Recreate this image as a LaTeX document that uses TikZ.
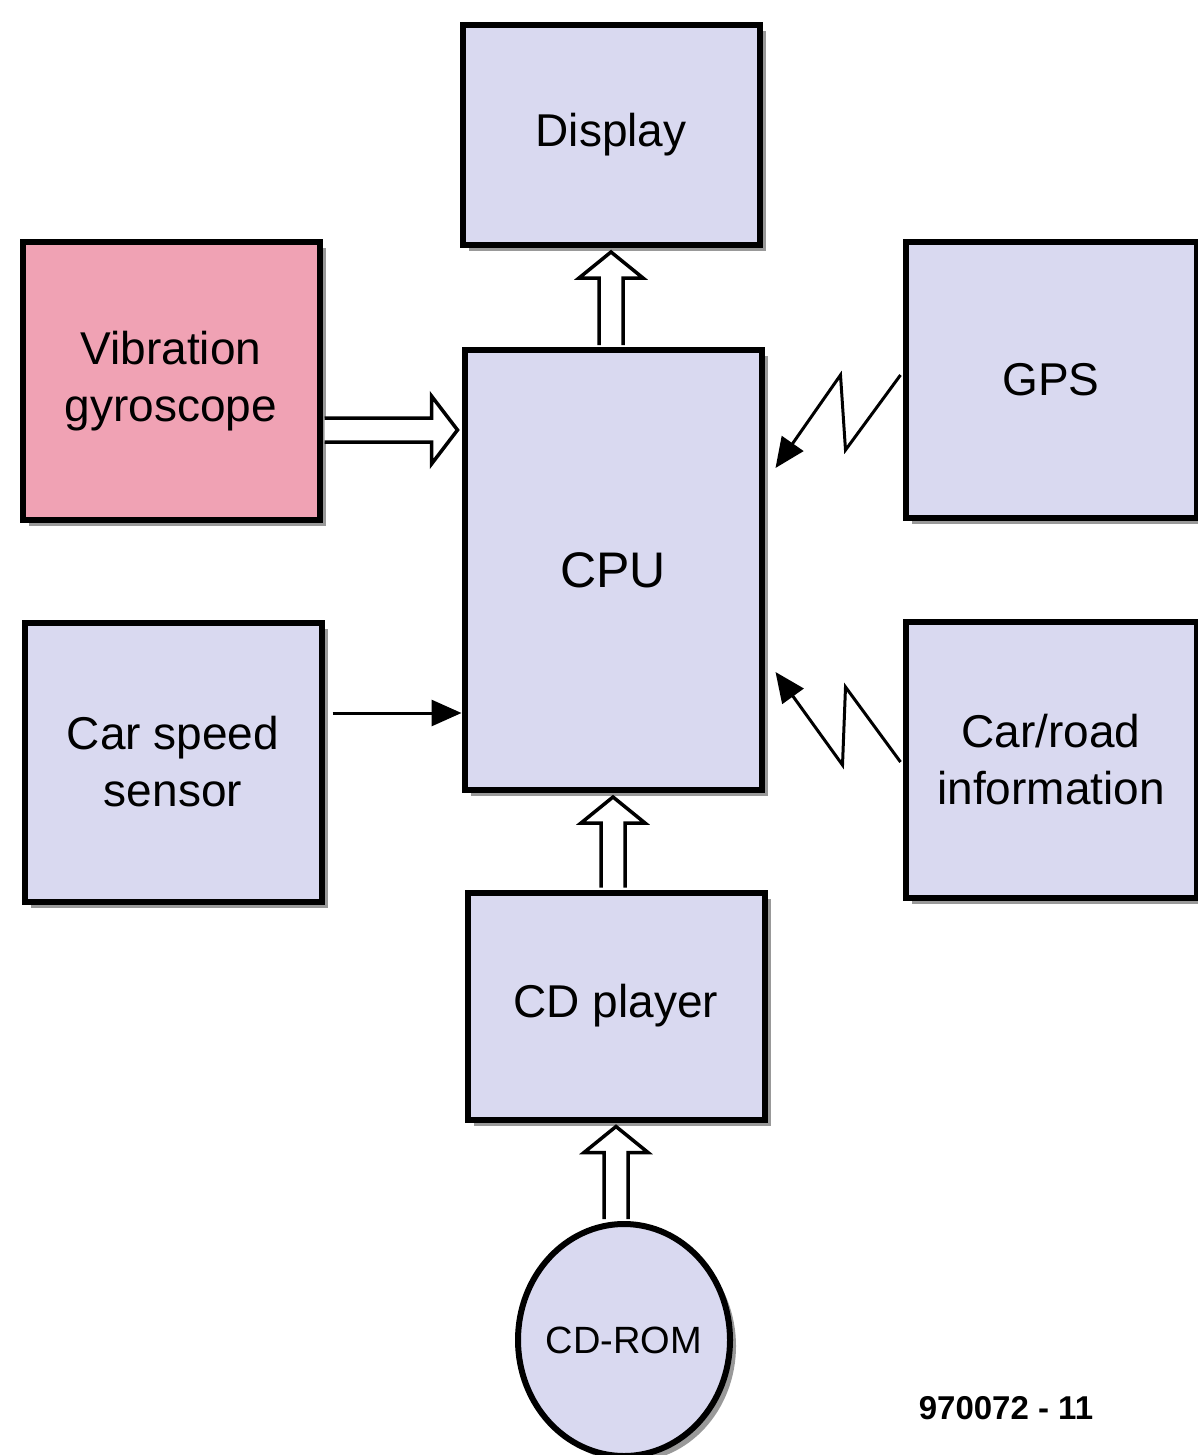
\documentclass[tikz,border=0pt]{standalone}
\usepackage{fontspec}
\setmainfont{Liberation Sans}
\usetikzlibrary{calc,shadows,arrows.meta,shapes.geometric}
\definecolor{boxblue}{RGB}{217,217,240}
\definecolor{gyropink}{RGB}{240,162,180}
\begin{document}
\begin{tikzpicture}
  [x=1pt,y=-1pt,
   block/.style={draw=black,line width=6pt,fill=boxblue,minimum width=297pt,
     align=center,inner sep=0pt,font=\fontsize{46}{57}\selectfont,
     drop shadow={shadow xshift=6pt,shadow yshift=-6pt,fill=black!40,opacity=1}},
   fat/.style={draw=black,line width=3.5pt,fill=white,line join=miter},
   zig/.style={draw=black,line width=3pt,-{Triangle[length=30pt,width=26pt]}}]
  \useasboundingbox (0,0) rectangle (1198,1455);
  \clip (0,0) rectangle (1198,1455);

  \node[block,minimum height=220pt] (disp) at (611,135) {Display};
  \node[block,minimum height=278pt,fill=gyropink] (gyro) at (171,381) {Vibration\\gyroscope};
  \node[block,minimum width=291pt,minimum height=276pt] (gps) at (1051,380) {GPS};
  \node[block,minimum height=440pt,font=\fontsize{50}{60}\selectfont] (cpu) at (613,570) {CPU};
  \node[block,minimum height=279pt] (speed) at (173,762) {Car speed\\sensor};
  \node[block,minimum width=291pt,minimum height=276pt] (road) at (1051,760) {Car/road\\information};
  \node[block,minimum height=227pt] (cdp) at (616,1006) {CD player};
  \node[block,ellipse,inner sep=-30pt,minimum width=212pt,minimum height=232pt,
    font=\fontsize{38}{46}\selectfont] (cdrom) at (624,1340) {CD-ROM};
  \node[font=\bfseries\fontsize{33}{40}\selectfont] (code) at (1006,1408) {970072 - 11};

  \foreach \tip/\base in {disp/cpu,cpu/cdp,cdp/cdrom}
    \draw[fat] ($(\tip.south |- \base.north)+(-12,-2)$) -- ($(\tip.south)+(-12,30)$)
      -- ($(\tip.south)+(-32,30)$) -- ($(\tip.south)+(0,4)$) -- ($(\tip.south)+(32,30)$)
      -- ($(\tip.south)+(12,30)$) -- ($(\tip.south |- \base.north)+(12,-2)$);

  \coordinate (g) at ($(gyro.east)+(0,49)$);
  \draw[fat] ($(g)+(2,-12)$) -- ($(g -| cpu.west)+(-30,-12)$) -- ($(g -| cpu.west)+(-30,-34)$)
    -- ($(g -| cpu.west)+(-4,0)$) -- ($(g -| cpu.west)+(-30,34)$) -- ($(g -| cpu.west)+(-30,12)$)
    -- ($(g)+(2,12)$);

  \coordinate (s) at ($(speed.east)+(8,-49)$);
  \draw[zig] (s) -- (s -| cpu.west);

  \draw[zig] ($(gps.west)+(-2,-5)$) -- ($(gps.west)+(-57,70)$) -- ($(gps.west)+(-62,-5)$)
    -- ($(cpu.east)+(11,-102)$);
  \draw[zig] ($(road.west)+(-2,2)$) -- ($(road.west)+(-57,-73)$) -- ($(road.west)+(-60,5)$)
    -- ($(cpu.east)+(11,102)$);

\end{tikzpicture}
\end{document}
